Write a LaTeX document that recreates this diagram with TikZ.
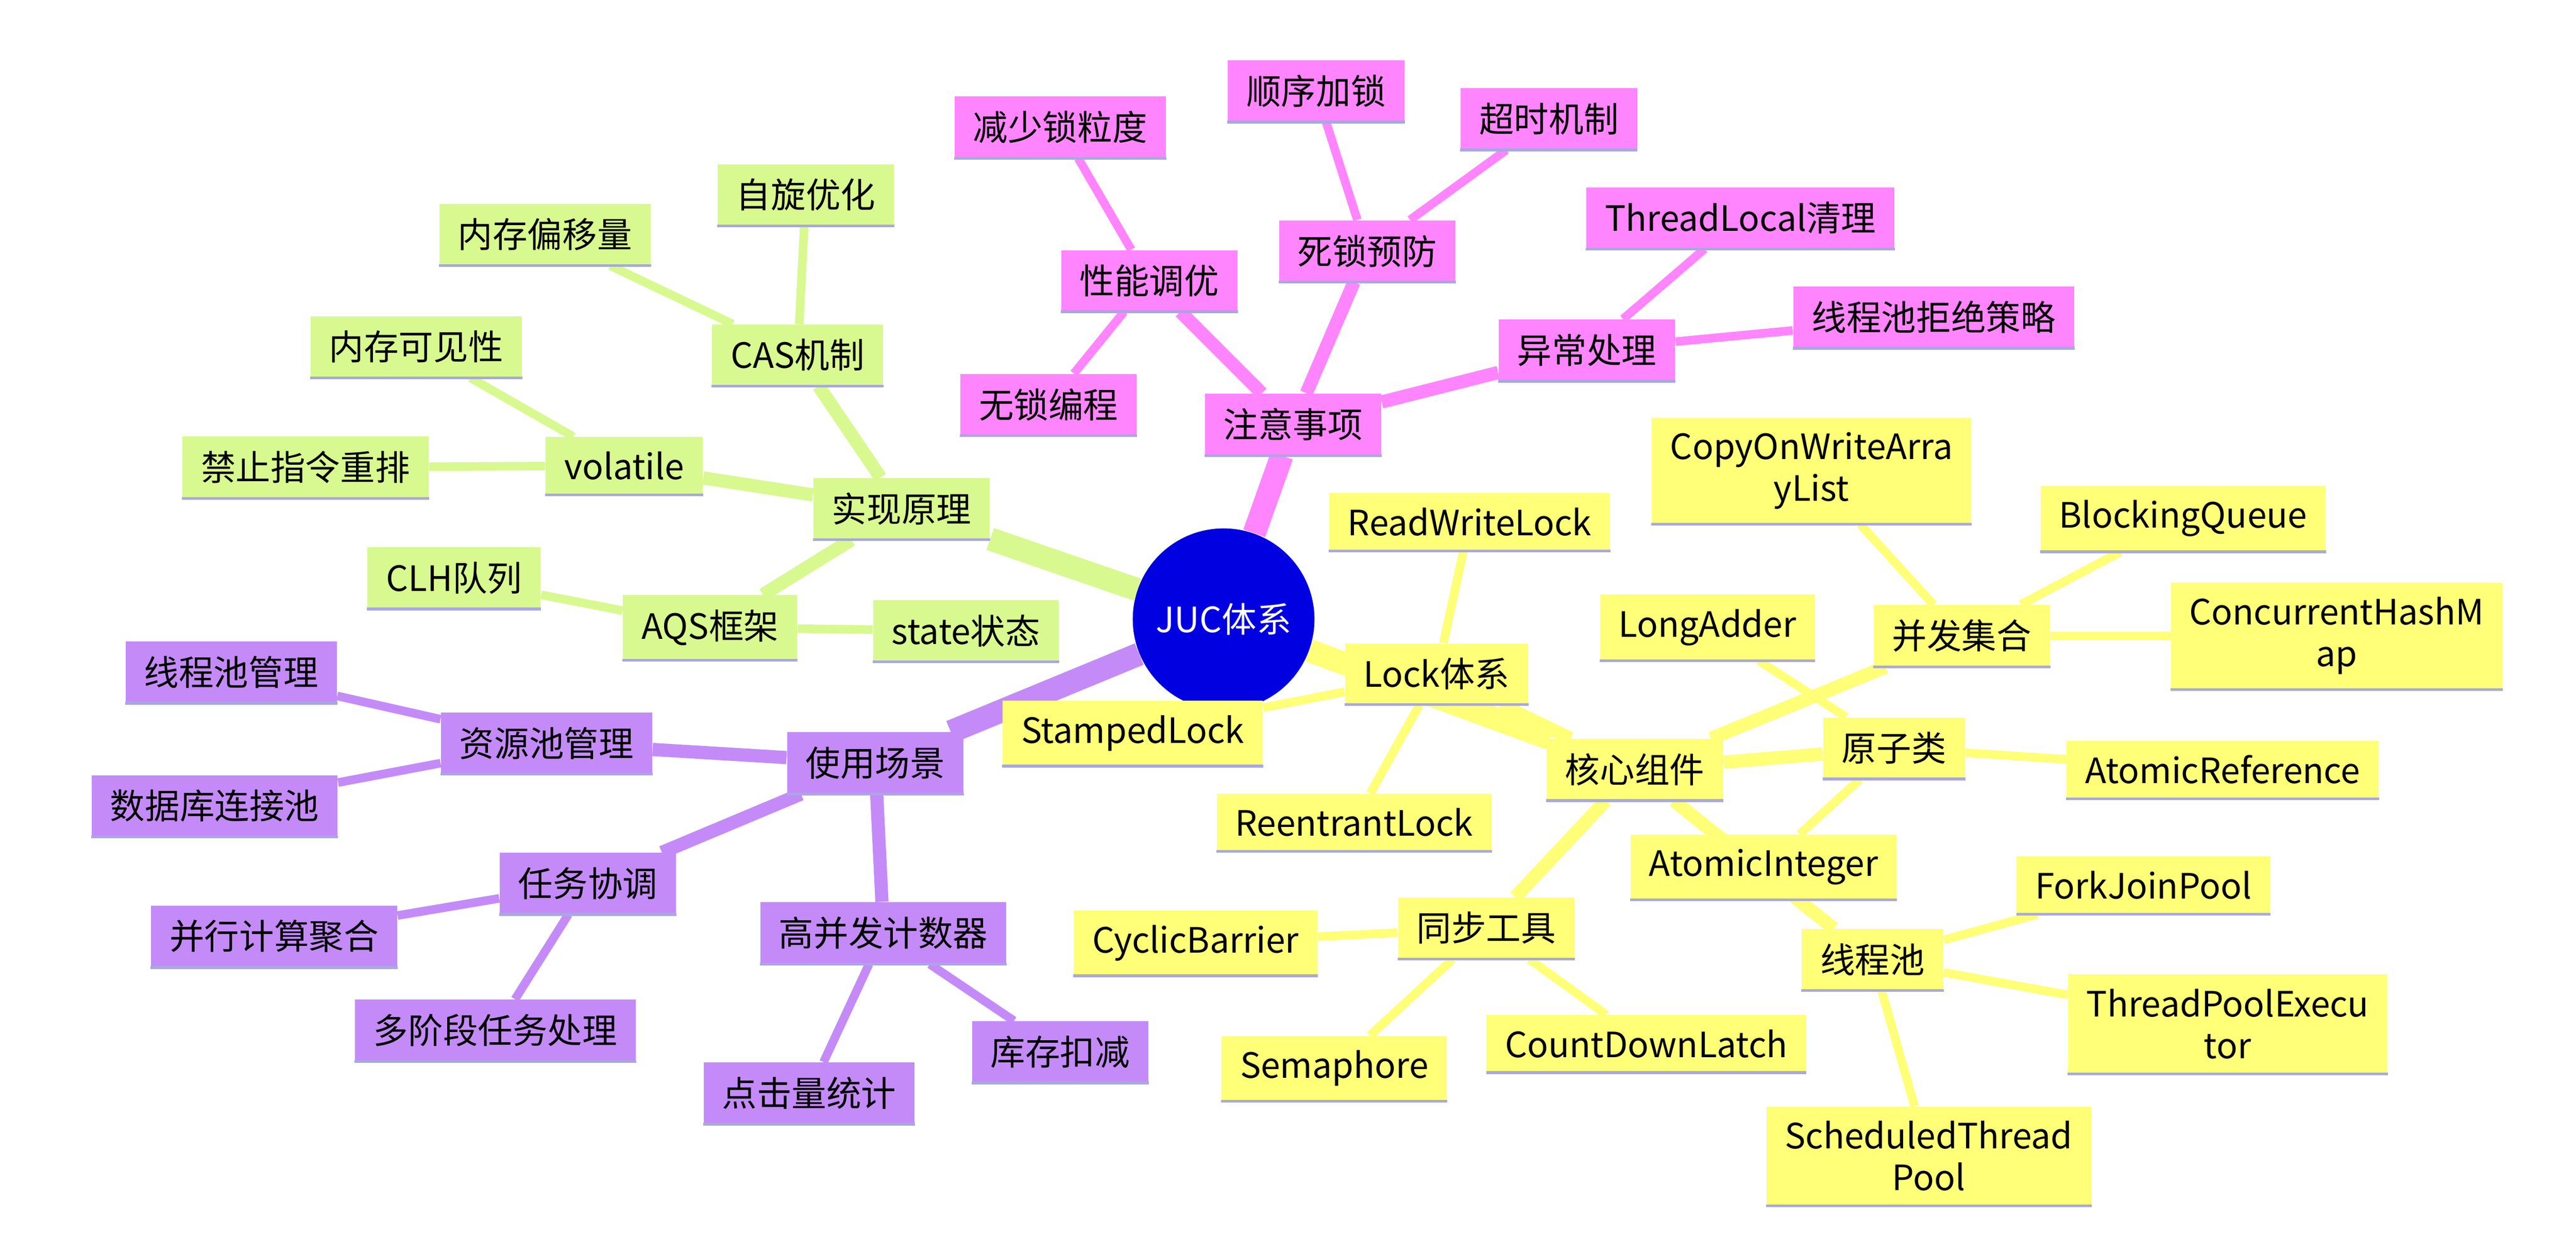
\documentclass[tikz,border=0pt]{standalone}
\usepackage{fontspec}
\setmainfont{Noto Sans CJK SC}
\usetikzlibrary{backgrounds}
\definecolor{pk}{HTML}{FF85FF}
\definecolor{gr}{HTML}{D8F98F}
\definecolor{pu}{HTML}{C48BF8}
\definecolor{ye}{HTML}{FFFF78}
\definecolor{lav}{HTML}{A8A8E0}
\definecolor{rootb}{HTML}{0000E0}
\tikzset{
 box/.style={rectangle, inner xsep=0.28cm, inner ysep=0.22cm, font=\fontsize{15}{18}\selectfont, align=center,
   append after command={(\tikzlastnode.south west) edge[draw=lav, line width=1.2pt] (\tikzlastnode.south east)}},
 pkb/.style={box, fill=pk}, grb/.style={box, fill=gr}, pub/.style={box, fill=pu}, yeb/.style={box, fill=ye},
 e1/.style={line width=0.35cm}, e2/.style={line width=0.2cm}, e3/.style={line width=0.13cm}
}
\begin{document}
\begin{tikzpicture}[x=0.025cm,y=-0.025cm]
\useasboundingbox (0,0) rectangle (1560,759.2);
\node[circle, fill=rootb, minimum size=2.75cm, text=white, font=\fontsize{15}{18}\selectfont] (root) at (741,375) {JUC体系};
% pink
\node[pkb] (zy) at (783,257) {注意事项};
\node[pkb] (xn) at (696,170) {性能调优};
\node[pkb] (js) at (642,77) {减少锁粒度};
\node[pkb] (ws) at (635,245) {无锁编程};
\node[pkb] (sy) at (828,152) {死锁预防};
\node[pkb] (sx) at (797,55) {顺序加锁};
\node[pkb] (cs) at (938,72) {超时机制};
\node[pkb] (yc) at (961,212) {异常处理};
\node[pkb] (tl) at (1054,132) {ThreadLocal清理};
\node[pkb] (jj) at (1171,192) {线程池拒绝策略};
% green
\node[grb] (sx2) at (546,308) {实现原理};
\node[grb] (cas) at (483,215) {CAS机制};
\node[grb] (ncp) at (330,142) {内存偏移量};
\node[grb] (zx) at (488,118) {自旋优化};
\node[grb] (vol) at (378,282) {volatile};
\node[grb] (kj) at (252,210) {内存可见性};
\node[grb] (jz) at (185,283) {禁止指令重排};
\node[grb] (aqs) at (430,380) {AQS框架};
\node[grb] (clh) at (275,350) {CLH队列};
\node[grb] (st) at (585,382) {state状态};
% purple
\node[pub] (syc) at (530,462) {使用场景};
\node[pub] (zyc) at (331,450) {资源池管理};
\node[pub] (xcg) at (140,407) {线程池管理};
\node[pub] (sjk) at (130,488) {数据库连接池};
\node[pub] (rw) at (356,535) {任务协调};
\node[pub] (bx) at (166,567) {并行计算聚合};
\node[pub] (dj) at (300,624) {多阶段任务处理};
\node[pub] (gb) at (535,565) {高并发计数器};
\node[pub] (dl) at (490,662) {点击量统计};
\node[pub] (kc) at (642,637) {库存扣减};
% yellow
\node[yeb] (lock) at (870,408) {Lock体系};
\node[yeb] (rwl) at (890,316) {ReadWriteLock};
\node[yeb] (stl) at (686,444) {StampedLock};
\node[yeb] (rel) at (820,498) {ReentrantLock};
\node[yeb] (hx) at (990,466) {核心组件};
\node[yeb] (tb) at (900,562) {同步工具};
\node[yeb] (cb) at (724,571) {CyclicBarrier};
\node[yeb] (sem) at (808,647) {Semaphore};
\node[yeb] (cdl) at (997,632) {CountDownLatch};
\node[yeb] (yz) at (1147,453) {原子类};
\node[yeb] (la) at (1034,380) {LongAdder};
\node[yeb] (ar) at (1346,466) {AtomicReference};
\node[yeb] (ai) at (1068,525) {AtomicInteger};
\node[yeb] (bf) at (1188,385) {并发集合};
\node[yeb] (cow) at (1097,285) {CopyOnWriteArra\\yList};
\node[yeb] (bq) at (1322,314) {BlockingQueue};
\node[yeb] (chm) at (1415,385) {ConcurrentHashM\\ap};
\node[yeb] (xcc) at (1134,581) {线程池};
\node[yeb] (fj) at (1298,536) {ForkJoinPool};
\node[yeb] (tpe) at (1349,620) {ThreadPoolExecu\\tor};
\node[yeb] (stp) at (1168,700) {ScheduledThread\\Pool};
\begin{scope}[on background layer]
\draw[pk,e1] (root) -- (zy);
\draw[pk,e2] (zy) -- (xn); \draw[pk,e2] (zy) -- (sy); \draw[pk,e2] (zy) -- (yc);
\draw[pk,e3] (xn) -- (js); \draw[pk,e3] (xn) -- (ws);
\draw[pk,e3] (sy) -- (sx); \draw[pk,e3] (sy) -- (cs);
\draw[pk,e3] (yc) -- (tl); \draw[pk,e3] (yc) -- (jj);
\draw[gr,e1] (root) -- (sx2);
\draw[gr,e2] (sx2) -- (cas); \draw[gr,e2] (sx2) -- (vol); \draw[gr,e2] (sx2) -- (aqs);
\draw[gr,e3] (cas) -- (ncp); \draw[gr,e3] (cas) -- (zx);
\draw[gr,e3] (vol) -- (kj); \draw[gr,e3] (vol) -- (jz);
\draw[gr,e3] (aqs) -- (clh); \draw[gr,e3] (aqs) -- (st);
\draw[pu,e1] (root) -- (syc);
\draw[pu,e2] (syc) -- (zyc); \draw[pu,e2] (syc) -- (rw); \draw[pu,e2] (syc) -- (gb);
\draw[pu,e3] (zyc) -- (xcg); \draw[pu,e3] (zyc) -- (sjk);
\draw[pu,e3] (rw) -- (bx); \draw[pu,e3] (rw) -- (dj);
\draw[pu,e3] (gb) -- (dl); \draw[pu,e3] (gb) -- (kc);
\draw[ye,e1] (root) -- (hx);
\draw[ye,e2] (hx) -- (lock); \draw[ye,e2] (hx) -- (tb); \draw[ye,e2] (hx) -- (yz); \draw[ye,e2] (hx) -- (bf); \draw[ye,e2] (hx) -- (xcc);
\draw[ye,e3] (lock) -- (rwl); \draw[ye,e3] (lock) -- (stl); \draw[ye,e3] (lock) -- (rel);
\draw[ye,e3] (tb) -- (cb); \draw[ye,e3] (tb) -- (sem); \draw[ye,e3] (tb) -- (cdl);
\draw[ye,e3] (yz) -- (la); \draw[ye,e3] (yz) -- (ar); \draw[ye,e3] (yz) -- (ai);
\draw[ye,e3] (bf) -- (cow); \draw[ye,e3] (bf) -- (bq); \draw[ye,e3] (bf) -- (chm);
\draw[ye,e3] (xcc) -- (fj); \draw[ye,e3] (xcc) -- (tpe); \draw[ye,e3] (xcc) -- (stp);
\end{scope}
\end{tikzpicture}
\end{document}
